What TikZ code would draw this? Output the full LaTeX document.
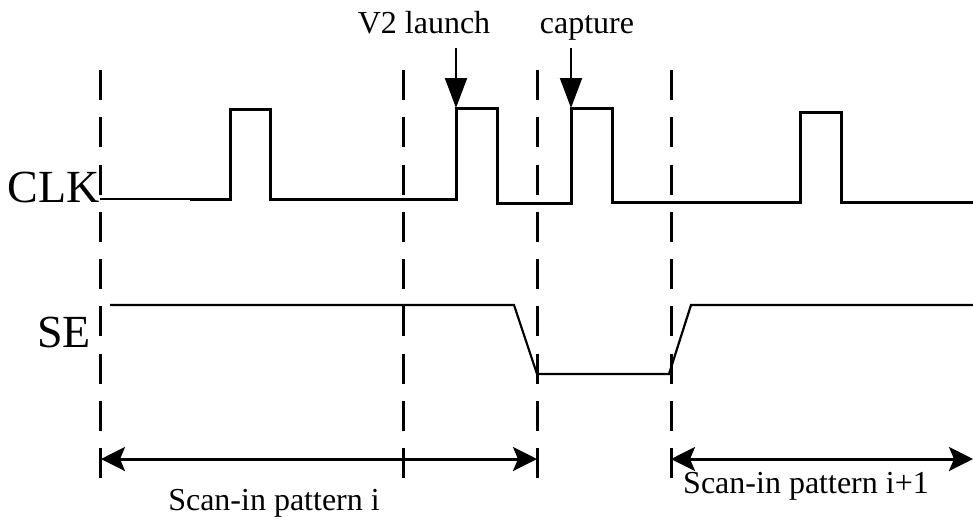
\documentclass[tikz,border=0pt]{standalone}
\usepackage{fontspec}
\setmainfont{Liberation Serif}
\usetikzlibrary{arrows.meta}
\begin{document}
\begin{tikzpicture}[x=1pt,y=-1pt,
  wave/.style={line width=3pt, line join=miter, line cap=butt},
  thinwave/.style={line width=2pt},
  selevel/.style={line width=2.2pt, line join=miter},
  guide/.style={line width=3pt, dash pattern=on 30pt off 17.25pt},
  marker/.style={line width=2pt, -{Triangle[length=30pt,width=22pt]}},
  span/.style={line width=3pt, {Stealth[length=24pt,width=24pt,inset=5pt]}-{Stealth[length=24pt,width=24pt,inset=5pt]}},
  siglabel/.style={font=\fontsize{46}{50}\selectfont, inner sep=0pt},
  txt/.style={font=\fontsize{32}{36}\selectfont, inner sep=0pt}]
\useasboundingbox (0,0) rectangle (973,520);

% signal names
\node[siglabel, anchor=base east] (clk) at (100,202) {CLK};
\node[siglabel, anchor=base west] (se) at (37,347) {SE};

% dashed phase boundaries
\foreach \gx/\gn in {100/g1, 403/g2, 537/g3, 671/g4} {
  \coordinate (\gn top) at (\gx,70);
  \coordinate (\gn bot) at (\gx,478);
  \draw[guide] (\gn top) -- (\gn bot);
}

% clock waveform
\draw[thinwave] (100,199) -- (190,199);
\draw[wave] (190,199) -- (230,199) -- (230,109) -- (270,109) -- (270,199)
  -- (456,199) -- (456,108) -- (497,108) -- (497,203) -- (571,203)
  -- (571,108) -- (612,108) -- (612,202) -- (800,202) -- (800,112)
  -- (841,112) -- (841,202) -- (973,202);

% scan enable waveform
\draw[selevel] (110,305) -- (514,305) -- (537,374) -- (669,374) -- (691,305) -- (973,305);

% launch and capture edges
\node[txt, anchor=base] (launch) at (424,33) {V2 launch};
\node[txt, anchor=base] (capture) at (587,33) {capture};
\coordinate (launchtail) at (456,48);
\coordinate (launchedge) at (456,108);
\coordinate (capturetail) at (571,48);
\coordinate (captureedge) at (571,108);
\draw[marker] (launchtail) -- (launchedge);
\draw[marker] (capturetail) -- (captureedge);

% scan-in intervals
\coordinate (spanAl) at (101,459);
\coordinate (spanAr) at (537,459);
\coordinate (spanBl) at (671,459);
\coordinate (spanBr) at (973,459);
\draw[span] (spanAl) -- (spanAr);
\draw[span] (spanBl) -- (spanBr);
\node[txt, anchor=base] (patI) at (274,510) {Scan-in pattern i};
\node[txt, anchor=base] (patII) at (806,493) {Scan-in pattern i+1};
\end{tikzpicture}
\end{document}
